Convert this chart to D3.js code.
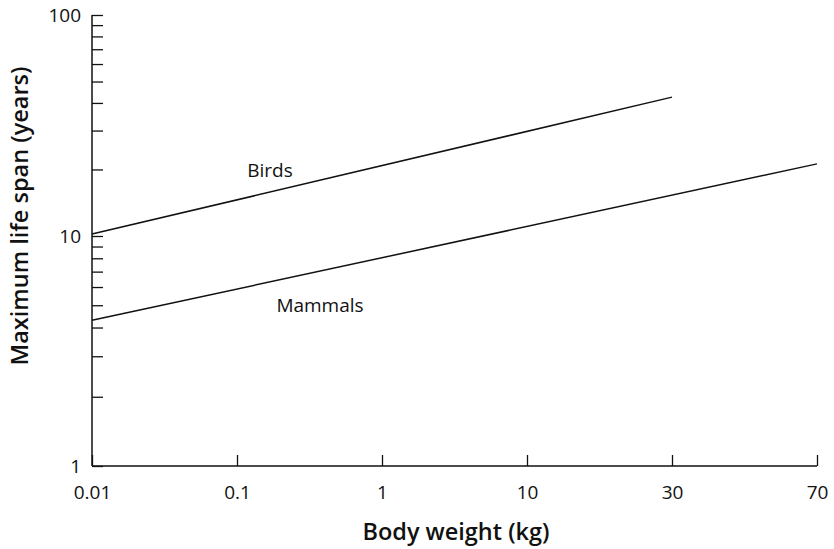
<!DOCTYPE html>
<html>
<head>
<meta charset="utf-8">
<script src="https://cdn.jsdelivr.net/npm/d3@7"></script>
<style>
  body { margin: 0; background: #fff; }
  svg { display: block; font-family: "Open Sans", sans-serif; }
</style>
</head>
<body>
<svg></svg>
<script>
let weights = ["0.01", "0.1", "1", "10", "30", "70"];

let birdWeights = ["0.01", "30"];
let birdSpans = [10.2, 42.5];

let mammalWeights = ["0.01", "70"];
let mammalSpans = [4.3, 21.2];

let yTicks = [1, 2, 3, 4, 5, 6, 7, 8, 9, 10, 20, 30, 40, 50, 60, 70, 80, 90, 100];
let yLabels = [1, 10, 100];

let width = 834;
let height = 549;

let plotLeft = 92;
let plotRight = 817;
let plotTop = 15;
let plotBottom = 466;

let svg = d3.select("svg").attr("width", width).attr("height", height);

let xScale = d3.scalePoint().domain(weights).range([plotLeft, plotRight]);

// the printed decades are not quite the same height
let yScale = d3.scaleLog().domain([1, 10, 100]).range([plotBottom, 236, plotTop]);

let drawAxes = () => {
  let xAxis = d3.axisBottom(xScale).tickSize(-11).tickPadding(20);
  let gx = svg
    .append("g")
    .attr("transform", "translate(0, " + plotBottom + ")")
    .call(xAxis);
  gx.select(".domain").attr("d", "M" + plotLeft + ",0H" + plotRight);

  let yAxis = d3
    .axisLeft(yScale)
    .tickValues(yTicks)
    .tickSize(-11)
    .tickFormat((d) => (yLabels.includes(d) ? d : ""));
  let gy = svg
    .append("g")
    .attr("transform", "translate(" + plotLeft + ", 0)")
    .call(yAxis);
  gy.select(".domain").attr("d", "M0," + plotTop + "V" + plotBottom);

  svg.selectAll(".domain").attr("stroke", "#111").attr("stroke-width", 1.5);
  svg.selectAll(".tick line").attr("stroke", "#111").attr("stroke-width", 1.3);
  svg
    .selectAll(".tick text")
    .attr("fill", "#111")
    .style("font-size", "19px")
    .style("font-family", "'Open Sans', sans-serif");
  gy.selectAll(".tick text").attr("x", -11);
};

let drawLines = () => {
  let line = d3
    .line()
    .x((d) => xScale(d[0]))
    .y((d) => yScale(d[1]));

  let birds = birdWeights.map((w, i) => [w, birdSpans[i]]);
  let mammals = mammalWeights.map((w, i) => [w, mammalSpans[i]]);

  svg
    .selectAll("path.series")
    .data([birds, mammals])
    .enter()
    .append("path")
    .attr("class", "series")
    .attr("d", line)
    .attr("fill", "none")
    .attr("stroke", "#111")
    .attr("stroke-width", 1.5);

  svg
    .append("text")
    .attr("x", 270)
    .attr("y", 177)
    .attr("text-anchor", "middle")
    .style("font-size", "19px")
    .attr("fill", "#111")
    .text("Birds");

  svg
    .append("text")
    .attr("x", 320)
    .attr("y", 312)
    .attr("text-anchor", "middle")
    .style("font-size", "19px")
    .attr("fill", "#111")
    .text("Mammals");
};

let drawTitles = () => {
  svg
    .append("text")
    .attr("x", 456)
    .attr("y", 540)
    .attr("text-anchor", "middle")
    .style("font-size", "23.5px")
    .style("font-weight", 600)
    .attr("fill", "#111")
    .text("Body weight (kg)");

  svg
    .append("text")
    .attr("transform", "translate(28, 216) rotate(-90)")
    .attr("text-anchor", "middle")
    .style("font-size", "23.5px")
    .style("font-weight", 600)
    .attr("fill", "#111")
    .text("Maximum life span (years)");
};

drawAxes();
drawLines();
drawTitles();
</script>
</body>
</html>
